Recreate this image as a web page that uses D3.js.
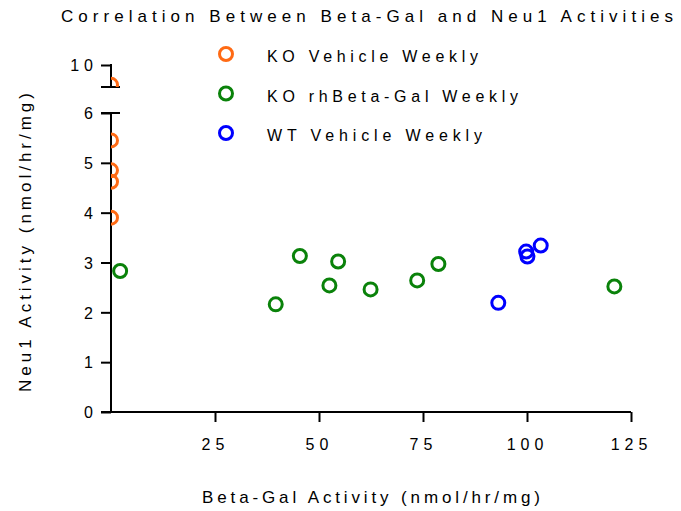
<!DOCTYPE html>
<html>
<head>
<meta charset="utf-8">
<script src="https://cdn.jsdelivr.net/npm/d3@7"></script>
<style>
  body { margin: 0; background: #fff; }
  text { font-family: "Liberation Sans", Arial, sans-serif; fill: #000; }
</style>
</head>
<body>
<div id="chart"></div>
<script>
// series
const koVehicleX = [0, 0, 0, 0, 0];
const koVehicleY = [9.55, 5.45, 4.85, 4.62, 3.9];
const koEnzymeX = [2.2, 39.6, 45.4, 52.5, 54.6, 62.4, 73.6, 78.7, 121];
const koEnzymeY = [2.83, 2.16, 3.13, 2.54, 3.02, 2.46, 2.64, 2.97, 2.52];
const wtVehicleX = [93.1, 99.8, 100.1, 103.3];
const wtVehicleY = [2.19, 3.22, 3.12, 3.34];

const seriesNames = ["KO Vehicle Weekly", "KO rhBeta-Gal Weekly", "WT Vehicle Weekly"];
const seriesColors = ["#ff6a14", "#0a820a", "#0000ff"];
const legendWidths = [211, 251, 215];

const xTicks = [25, 50, 75, 100, 125];
const yTicksLow = [0, 1, 2, 3, 4, 5, 6];
const yTicksHigh = [10];

const width = 681;
const height = 511;

const x = d3.scaleLinear().domain([0, 125]).range([111, 631]);
const yLow = d3.scaleLinear().domain([0, 6]).range([412, 113]);
const yHigh = d3.scaleLinear().domain([9.5, 10]).range([87, 65]);

const svg = d3.select("#chart").append("svg").attr("width", width).attr("height", height);

// clip areas for the two axis segments
const defs = svg.append("defs");
defs.append("clipPath").attr("id", "clipLow")
  .append("rect").attr("x", 111).attr("y", yLow(6)).attr("width", 600).attr("height", 330);
defs.append("clipPath").attr("id", "clipHigh")
  .append("rect").attr("x", 111).attr("y", 40).attr("width", 600).attr("height", yHigh(9.5) - 40);

// title
svg.append("text")
  .attr("x", 61).attr("y", 22)
  .attr("font-size", 17)
  .attr("textLength", 612).attr("lengthAdjust", "spacing")
  .text("Correlation Between Beta-Gal and Neu1 Activities");

// x axis
const xAxis = svg.append("g")
  .attr("transform", `translate(0,${yLow(0)})`)
  .call(d3.axisBottom(x).tickValues(xTicks).tickSize(10).tickSizeOuter(0).tickFormat(d3.format("d")));
xAxis.select(".domain").remove();
xAxis.append("line").attr("x1", 101).attr("x2", x(125)).attr("stroke", "#000").attr("stroke-width", 2);
xAxis.selectAll(".tick line").attr("stroke-width", 2);
xAxis.selectAll(".tick text")
  .attr("y", 38).attr("dy", 0)
  .attr("font-size", 16).attr("letter-spacing", "5px")
  .attr("font-family", "Liberation Sans, Arial, sans-serif");

// y axis, lower segment
const yAxisLow = svg.append("g")
  .attr("transform", `translate(${x(0)},0)`)
  .call(d3.axisLeft(yLow).tickValues(yTicksLow).tickSize(10).tickSizeOuter(0).tickFormat(d3.format("d")));
yAxisLow.select(".domain").remove();
yAxisLow.append("line").attr("y1", yLow(0)).attr("y2", yLow(6)).attr("stroke", "#000").attr("stroke-width", 2);

// y axis, upper segment
const yAxisHigh = svg.append("g")
  .attr("transform", `translate(${x(0)},0)`)
  .call(d3.axisLeft(yHigh).tickValues(yTicksHigh).tickSize(10).tickSizeOuter(0).tickFormat(d3.format("d")));
yAxisHigh.select(".domain").remove();
yAxisHigh.append("line").attr("y1", yHigh(9.5)).attr("y2", yHigh(10) - 1).attr("stroke", "#000").attr("stroke-width", 2);

[yAxisLow, yAxisHigh].forEach((g) => {
  g.selectAll(".tick line").attr("stroke-width", 2);
  g.selectAll(".tick text")
    .attr("x", -13).attr("dy", "0.36em")
    .attr("font-size", 16).attr("letter-spacing", "5px")
    .attr("font-family", "Liberation Sans, Arial, sans-serif");
});

// break marks
[yLow(6), yHigh(9.5)].forEach((yy) => {
  svg.append("line")
    .attr("x1", x(0) - 10).attr("x2", x(0) + 9)
    .attr("y1", yy).attr("y2", yy)
    .attr("stroke", "#000").attr("stroke-width", 2);
});

// points
const series = [
  { xs: koVehicleX, ys: koVehicleY },
  { xs: koEnzymeX, ys: koEnzymeY },
  { xs: wtVehicleX, ys: wtVehicleY },
];
const low = svg.append("g").attr("clip-path", "url(#clipLow)");
const high = svg.append("g").attr("clip-path", "url(#clipHigh)");
series.forEach((s, i) => {
  const pts = s.xs.map((v, j) => ({ x: v, y: s.ys[j] }));
  low.selectAll(null)
    .data(pts.filter((d) => d.y <= 6))
    .enter()
    .append("circle")
    .attr("cx", (d) => x(d.x))
    .attr("cy", (d) => yLow(d.y))
    .attr("r", 6.5)
    .attr("fill", "none")
    .attr("stroke", seriesColors[i])
    .attr("stroke-width", 3);
  high.selectAll(null)
    .data(pts.filter((d) => d.y >= 9.5))
    .enter()
    .append("circle")
    .attr("cx", (d) => x(d.x))
    .attr("cy", (d) => yHigh(d.y))
    .attr("r", 6.5)
    .attr("fill", "none")
    .attr("stroke", seriesColors[i])
    .attr("stroke-width", 3);
});

// legend
const legend = svg.append("g");
seriesNames.forEach((name, i) => {
  const cy = 54 + i * 39.5;
  legend.append("circle")
    .attr("cx", 226).attr("cy", cy).attr("r", 6.5)
    .attr("fill", "none").attr("stroke", seriesColors[i]).attr("stroke-width", 3);
  legend.append("text")
    .attr("x", 267).attr("y", cy + 8)
    .attr("font-size", 16)
    .attr("textLength", legendWidths[i]).attr("lengthAdjust", "spacing")
    .text(name);
});

// axis titles
svg.append("text")
  .attr("x", 202).attr("y", 503)
  .attr("font-size", 17)
  .attr("textLength", 338).attr("lengthAdjust", "spacing")
  .text("Beta-Gal Activity (nmol/hr/mg)");

svg.append("text")
  .attr("transform", "translate(31,392) rotate(-90)")
  .attr("font-size", 17)
  .attr("textLength", 299).attr("lengthAdjust", "spacing")
  .text("Neu1 Activity (nmol/hr/mg)");
</script>
</body>
</html>
